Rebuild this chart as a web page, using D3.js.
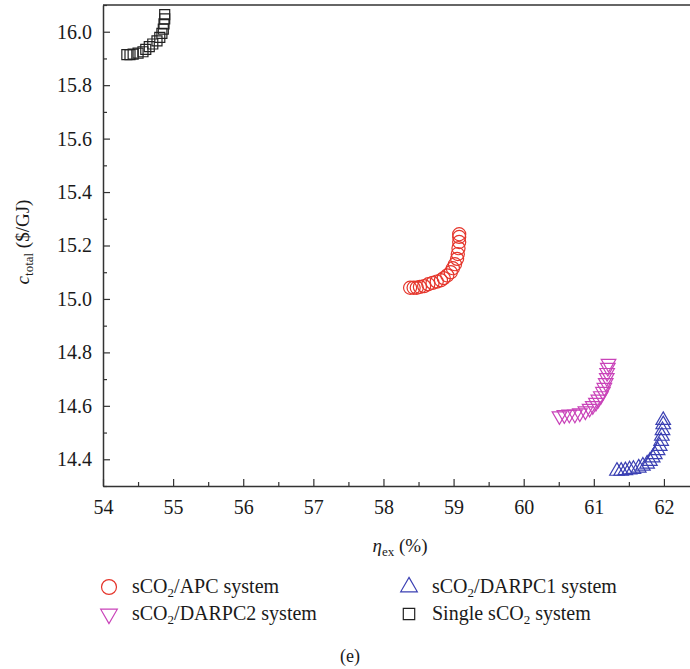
<!DOCTYPE html>
<html>
<head>
<meta charset="utf-8">
<style>
  body { margin: 0; background: #fff; }
  svg { display: block; }
  svg text { font-family: "Liberation Serif", "Times New Roman", Times, serif !important; }
</style>
</head>
<body>
<div id="chart"></div>
<script src="https://cdn.jsdelivr.net/npm/d3@7/dist/d3.min.js"></script>
<script>
  // efficiency (%) and total cost ($/GJ)
  const apcX = [58.38, 58.43, 58.475, 58.52, 58.58, 58.64, 58.70, 58.76, 58.82, 58.86,
                58.91, 58.96, 58.99, 59.02, 59.05, 59.06, 59.07, 59.08, 59.08, 59.08];
  const apcY = [15.042, 15.042, 15.042, 15.045, 15.048, 15.055, 15.060, 15.065, 15.070, 15.078,
                15.088, 15.100, 15.115, 15.130, 15.150, 15.168, 15.190, 15.213, 15.232, 15.242];

  const darpc1X = [61.33, 61.39, 61.45, 61.51, 61.565, 61.64, 61.70, 61.76, 61.80, 61.84,
                   61.87, 61.91, 61.94, 61.96, 61.97, 61.98, 61.99, 61.99];
  const darpc1Y = [14.356, 14.356, 14.358, 14.361, 14.363, 14.368, 14.375, 14.383, 14.393, 14.406,
                   14.418, 14.433, 14.449, 14.468, 14.487, 14.508, 14.530, 14.546];

  const darpc2X = [60.51, 60.58, 60.65, 60.73, 60.80, 60.88, 60.94, 60.985, 61.03, 61.065,
                   61.10, 61.13, 61.15, 61.17, 61.185, 61.19, 61.20, 61.21];
  const darpc2Y = [14.562, 14.566, 14.568, 14.568, 14.573, 14.580, 14.590, 14.600, 14.612, 14.624,
                   14.637, 14.653, 14.668, 14.686, 14.705, 14.724, 14.743, 14.758];

  const singleX = [54.34, 54.385, 54.43, 54.50, 54.57, 54.61, 54.66, 54.71, 54.77, 54.81,
                   54.84, 54.86, 54.87, 54.88, 54.88];
  const singleY = [15.914, 15.914, 15.916, 15.920, 15.925, 15.934, 15.944, 15.954, 15.966, 15.979,
                   15.994, 16.010, 16.029, 16.048, 16.064];

  const xTicks = [54, 55, 56, 57, 58, 59, 60, 61, 62];
  const yTicks = [14.4, 14.6, 14.8, 15.0, 15.2, 15.4, 15.6, 15.8, 16.0];

  const width = 690, height = 669;
  const plotLeft = 103, plotTop = 5, plotBottom = 486, plotRight = 706;

  const svg = d3.select("#chart").append("svg")
    .attr("width", width).attr("height", height);

  const x = d3.scaleLinear().domain([54, 62.6]).range([plotLeft, plotRight]);
  const y = d3.scaleLinear().domain([14.3, 16.1]).range([plotBottom, plotTop]);

  // top frame line
  svg.append("line").attr("x1", plotLeft).attr("x2", width).attr("y1", plotTop).attr("y2", plotTop)
    .attr("stroke", "#333").attr("stroke-width", 1.5);

  svg.append("g").attr("transform", `translate(0,${plotBottom})`)
    .call(d3.axisBottom(x).tickValues(xTicks).tickSizeInner(-7).tickSizeOuter(0).tickPadding(14));
  svg.append("g").attr("transform", `translate(0,${plotBottom})`)
    .call(d3.axisBottom(x).tickValues(d3.range(54.5, 62.6, 1)).tickSize(-4).tickFormat(""))
    .call(g => g.select(".domain").remove());

  svg.append("g").attr("transform", `translate(${plotLeft},0)`)
    .call(d3.axisLeft(y).tickValues(yTicks).tickSizeInner(-7).tickSizeOuter(0).tickPadding(11)
      .tickFormat(d3.format(".1f")));
  svg.append("g").attr("transform", `translate(${plotLeft},0)`)
    .call(d3.axisLeft(y).tickValues(d3.range(14.3, 16.11, 0.2)).tickSize(-4).tickFormat(""))
    .call(g => g.select(".domain").remove());

  svg.selectAll(".domain").attr("stroke", "#333").attr("stroke-width", 1.5);
  svg.selectAll(".tick line").attr("stroke", "#333").attr("stroke-width", 1.2);
  svg.selectAll(".tick text").attr("font-size", 20).attr("fill", "#1a1a1a");

  // series
  const series = [
    { xs: apcX, ys: apcY, color: "#e5352b", sym: d3.symbolCircle, size: 135, rot: 0 },
    { xs: darpc1X, ys: darpc1Y, color: "#3b40b3", sym: d3.symbolTriangle, size: 92, rot: 0 },
    { xs: darpc2X, ys: darpc2Y, color: "#c943b9", sym: d3.symbolTriangle, size: 92, rot: 180 },
    { xs: singleX, ys: singleY, color: "#222", sym: d3.symbolSquare, size: 100, rot: 0 }
  ];

  series.forEach(s => {
    svg.append("g").selectAll("path")
      .data(s.xs.map((v, i) => [v, s.ys[i]]))
      .enter().append("path")
      .attr("d", d3.symbol().type(s.sym).size(s.size))
      .attr("transform", d => `translate(${x(d[0])},${y(d[1])}) rotate(${s.rot})`)
      .attr("fill", "none")
      .attr("stroke", s.color)
      .attr("stroke-width", 1.2);
  });

  // axis titles
  const yt = svg.append("text")
    .attr("transform", "translate(29,242) rotate(-90)")
    .attr("text-anchor", "middle").attr("font-size", 19).attr("fill", "#1a1a1a");
  yt.append("tspan").attr("font-style", "italic").text("c");
  yt.append("tspan").attr("font-size", 13).attr("dy", 4).text("total");
  yt.append("tspan").attr("dy", -4).text(" ($/GJ)");

  const xt = svg.append("text")
    .attr("x", 400).attr("y", 552)
    .attr("text-anchor", "middle").attr("font-size", 19).attr("fill", "#1a1a1a");
  xt.append("tspan").attr("font-style", "italic").text("η");
  xt.append("tspan").attr("font-size", 13).attr("dy", 4).text("ex");
  xt.append("tspan").attr("dy", -4).text(" (%)");

  // legend
  const legend = [
    { label: ["sCO", "2", "/APC system"], s: series[0], lx: 109, ly: 587 },
    { label: ["sCO", "2", "/DARPC2 system"], s: series[2], lx: 109, ly: 614 },
    { label: ["sCO", "2", "/DARPC1 system"], s: series[1], lx: 409, ly: 587 },
    { label: ["Single sCO", "2", " system"], s: series[3], lx: 409, ly: 614 }
  ];
  legend.forEach(l => {
    svg.append("path")
      .attr("d", d3.symbol().type(l.s.sym).size(l.s.size * 1.3))
      .attr("transform", `translate(${l.lx},${l.ly}) rotate(${l.s.rot})`)
      .attr("fill", "none").attr("stroke", l.s.color).attr("stroke-width", 1.2);
    const t = svg.append("text").attr("x", l.lx + 23).attr("y", l.ly + 6)
      .attr("font-size", 20).attr("fill", "#1a1a1a");
    t.append("tspan").text(l.label[0]);
    t.append("tspan").attr("font-size", 13).attr("dy", 4).text(l.label[1]);
    t.append("tspan").attr("dy", -4).text(l.label[2]);
  });

  svg.append("text").attr("x", 350).attr("y", 662)
    .attr("text-anchor", "middle").attr("font-size", 18).attr("fill", "#1a1a1a").text("(e)");
</script>
</body>
</html>
